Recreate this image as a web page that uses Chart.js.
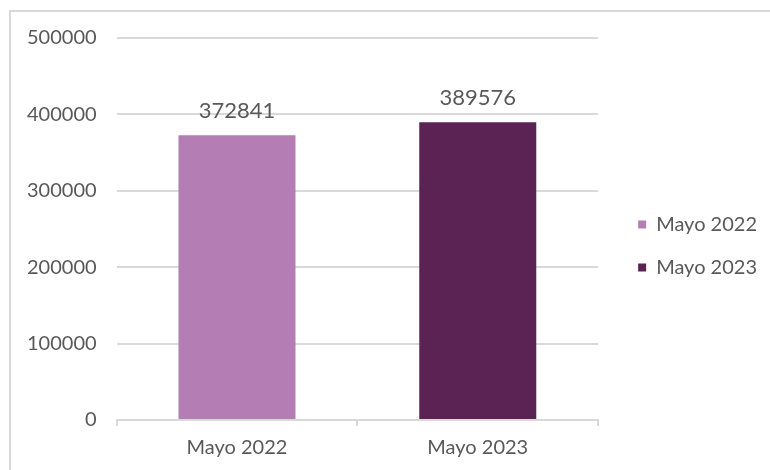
<!DOCTYPE html>
<html>
    <head>
        <title>Mayo 2022 vs Mayo 2023</title>
        <meta charset="UTF-8">
        <style>
            html, body {
                margin: 0;
                padding: 0;
                background: white;
                overflow: hidden;
            }
            #marco {
                position: absolute;
                left: 9px;
                top: 10px;
                width: 800px;
                height: 500px;
                border-left: 2px solid #d9d9d9;
                border-top: 2px solid #d9d9d9;
            }
            #chart-holder {
                position: absolute;
                left: 0;
                top: 0;
                width: 770px;
                height: 470px;
            }
        </style>
    </head>
    <body>
        <div id="marco"></div>
        <div id="chart-holder">
            <canvas id="grafica-mayo" width="770" height="470"></canvas>
        </div>

        <script src="https://cdn.jsdelivr.net/npm/chart.js@4/dist/chart.umd.min.js"></script>
        <script>
            // datos
            var categorias = ["Mayo 2022", "Mayo 2023"];
            var valores = [372841, 389576];
            var colores = ["#b47db4", "#5b2353"];
            var ticksY = [0, 100000, 200000, 300000, 400000, 500000];

            var colorTexto = "#595959";
            var colorLinea = "#d9d9d9";
            var fuente = "Lato, 'DejaVu Sans', sans-serif";

            // etiquetas encima de cada barra
            var etiquetasBarras = {
                id: "etiquetasBarras",
                afterDatasetsDraw: function (c) {
                    var ctx = c.ctx;
                    var meta = c.getDatasetMeta(0);
                    ctx.save();
                    ctx.fillStyle = colorTexto;
                    ctx.font = "22px " + fuente;
                    ctx.textAlign = "center";
                    ctx.textBaseline = "alphabetic";
                    meta.data.forEach(function (barra, i) {
                        ctx.fillText(String(valores[i]), barra.x, barra.y - 17);
                    });
                    ctx.restore();
                }
            };

            var ctx = document.getElementById("grafica-mayo").getContext("2d");
            var grafica = new Chart(ctx, {
                type: "bar",
                data: {
                    labels: categorias,
                    datasets: [{
                            label: "Valores",
                            data: valores,
                            backgroundColor: colores,
                            borderWidth: 0,
                            barPercentage: 0.486,
                            categoryPercentage: 1.0
                        }]
                },
                options: {
                    responsive: false,
                    animation: false,
                    layout: {
                        padding: {left: 7, top: 38, right: 3, bottom: 0}
                    },
                    scales: {
                        x: {
                            grid: {
                                drawOnChartArea: false,
                                drawTicks: true,
                                tickLength: 6,
                                color: colorLinea,
                                lineWidth: 2
                            },
                            border: {display: true, color: colorLinea, width: 2},
                            ticks: {
                                color: colorTexto,
                                font: {family: fuente, size: 20, lineHeight: 1.0},
                                padding: 12
                            }
                        },
                        y: {
                            min: 0,
                            max: 500000,
                            afterBuildTicks: function (scale) {
                                scale.ticks = ticksY.map(function (v) {
                                    return {value: v};
                                });
                            },
                            grid: {
                                drawTicks: false,
                                color: colorLinea,
                                lineWidth: 2
                            },
                            border: {display: false},
                            ticks: {
                                color: colorTexto,
                                font: {family: fuente, size: 20},
                                padding: 20,
                                callback: function (v) {
                                    return String(v);
                                }
                            }
                        },
                        // eje vacio para separar la leyenda del area
                        hueco: {
                            type: "linear",
                            position: "right",
                            display: false,
                            afterFit: function (scale) {
                                scale.width = 17;
                            }
                        }
                    },
                    plugins: {
                        tooltip: {enabled: false},
                        legend: {
                            position: "right",
                            fullSize: false,
                            title: {
                                display: true,
                                text: " ",
                                padding: 0,
                                font: {size: 34, lineHeight: 1}
                            },
                            labels: {
                                boxWidth: 8,
                                boxHeight: 8,
                                padding: 23,
                                color: colorTexto,
                                font: {family: fuente, size: 20},
                                generateLabels: function (c) {
                                    return categorias.map(function (cat, i) {
                                        return {
                                            text: cat,
                                            fillStyle: colores[i],
                                            strokeStyle: colores[i],
                                            lineWidth: 0,
                                            fontColor: colorTexto,
                                            hidden: false,
                                            index: i
                                        };
                                    });
                                }
                            }
                        }
                    }
                },
                plugins: [etiquetasBarras]
            });
        </script>
    </body>
</html>
